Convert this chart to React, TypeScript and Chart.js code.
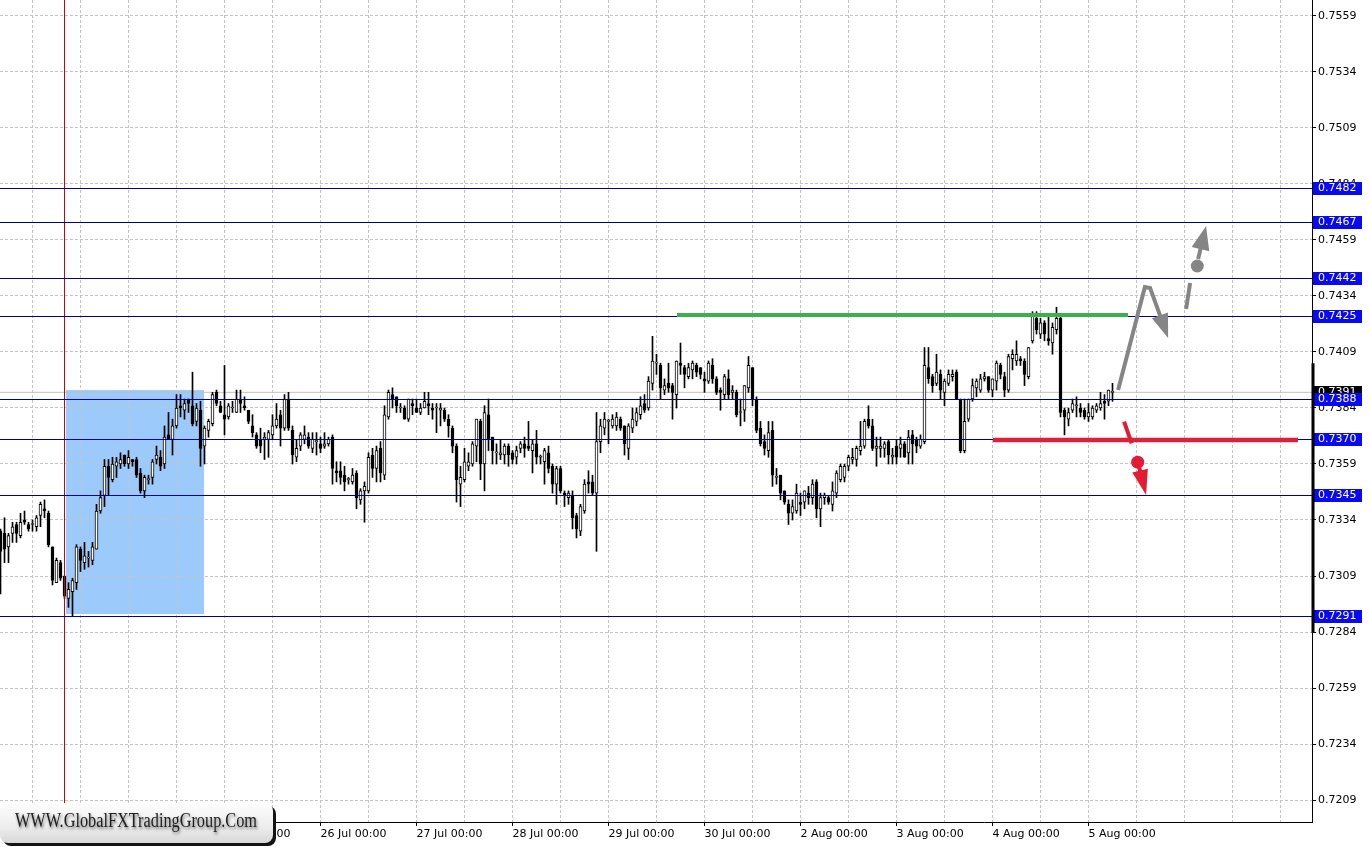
import React, { useEffect, useRef } from 'react';
import { Chart, registerables } from 'chart.js';

Chart.register(...registerables);

// ---------------- data (H1 candles) ----------------
const opens = [
  0.7329, 0.7328, 0.7322, 0.7328, 0.7332, 0.7327, 0.7334, 0.7332, 0.7332, 0.7331, 0.7336, 0.7339,
  0.7337, 0.7322, 0.7306, 0.7315, 0.7309, 0.7299, 0.7302, 0.7306, 0.7321, 0.7315, 0.7317, 0.7316,
  0.7321, 0.7338, 0.7345, 0.7358, 0.7352, 0.7358, 0.7359, 0.7363, 0.7359, 0.7361, 0.7361, 0.7355,
  0.7347, 0.7352, 0.7353, 0.7361, 0.7362, 0.7359, 0.7372, 0.7370, 0.7376, 0.7385, 0.7383, 0.7388,
  0.7385, 0.7378, 0.7383, 0.7367, 0.7374, 0.7377, 0.7391, 0.7385, 0.7381, 0.7380, 0.7384, 0.7382,
  0.7388, 0.7385, 0.7383, 0.7376, 0.7372, 0.7370, 0.7370, 0.7370, 0.7372, 0.7376, 0.7381, 0.7375,
  0.7388, 0.7374, 0.7362, 0.7367, 0.7370, 0.7371, 0.7366, 0.7369, 0.7368, 0.7367, 0.7368, 0.7371,
  0.7356, 0.7356, 0.7354, 0.7352, 0.7351, 0.7355, 0.7343, 0.7347, 0.7347, 0.7363, 0.7357, 0.7366,
  0.7354, 0.7380, 0.7390, 0.7389, 0.7384, 0.7384, 0.7379, 0.7386, 0.7384, 0.7382, 0.7384, 0.7386,
  0.7384, 0.7384, 0.7383, 0.7383, 0.7379, 0.7375, 0.7367, 0.7350, 0.7352, 0.7358, 0.7359, 0.7367,
  0.7378, 0.7359, 0.7381, 0.7371, 0.7364, 0.7363, 0.7363, 0.7367, 0.7364, 0.7362, 0.7366, 0.7368,
  0.7367, 0.7365, 0.7368, 0.7362, 0.7360, 0.7364, 0.7358, 0.7350, 0.7357, 0.7346, 0.7344, 0.7345,
  0.7336, 0.7329, 0.7338, 0.7351, 0.7351, 0.7346, 0.7369, 0.7375, 0.7378, 0.7376, 0.7376, 0.7379,
  0.7376, 0.7366, 0.7375, 0.7378, 0.7381, 0.7386, 0.7384, 0.7395, 0.7404, 0.7403, 0.7392, 0.7395,
  0.7394, 0.7390, 0.7404, 0.7402, 0.7398, 0.7401, 0.7403, 0.7402, 0.7397, 0.7396, 0.7403, 0.7397,
  0.7392, 0.7390, 0.7397, 0.7391, 0.7391, 0.7382, 0.7383, 0.7393, 0.7402, 0.7388, 0.7375, 0.7369,
  0.7365, 0.7374, 0.7353, 0.7354, 0.7347, 0.7341, 0.7337, 0.7338, 0.7342, 0.7342, 0.7346, 0.7344,
  0.7351, 0.7339, 0.7344, 0.7344, 0.7341, 0.7346, 0.7352, 0.7353, 0.7358, 0.7361, 0.7361, 0.7365,
  0.7367, 0.7379, 0.7376, 0.7366, 0.7366, 0.7366, 0.7369, 0.7362, 0.7367, 0.7366, 0.7368, 0.7364,
  0.7372, 0.7370, 0.7367, 0.7369, 0.7402, 0.7398, 0.7395, 0.7399, 0.7391, 0.7395, 0.7398, 0.7400,
  0.7388, 0.7365, 0.7379, 0.7388, 0.7393, 0.7392, 0.7397, 0.7398, 0.7392, 0.7396, 0.7403, 0.7398,
  0.7392, 0.7406, 0.7405, 0.7406, 0.7405, 0.7398, 0.7414, 0.7424, 0.7417, 0.7422, 0.7415, 0.7413,
  0.7419, 0.7424, 0.7383, 0.7379, 0.7383, 0.7385, 0.7384, 0.7383, 0.7380, 0.7380, 0.7383, 0.7384,
  0.7387, 0.7387, 0.7391,
];
const highs = [
  0.7330, 0.7335, 0.7328, 0.7333, 0.7333, 0.7337, 0.7338, 0.7333, 0.7334, 0.7336, 0.7342, 0.7343,
  0.7338, 0.7322, 0.7317, 0.7316, 0.7309, 0.7306, 0.7308, 0.7323, 0.7322, 0.7324, 0.7320, 0.7324,
  0.7341, 0.7347, 0.7361, 0.7361, 0.7362, 0.7362, 0.7364, 0.7363, 0.7365, 0.7361, 0.7362, 0.7357,
  0.7354, 0.7354, 0.7361, 0.7367, 0.7365, 0.7376, 0.7382, 0.7379, 0.7390, 0.7390, 0.7388, 0.7388,
  0.7400, 0.7386, 0.7387, 0.7376, 0.7379, 0.7391, 0.7392, 0.7387, 0.7403, 0.7386, 0.7387, 0.7392,
  0.7392, 0.7389, 0.7383, 0.7381, 0.7373, 0.7375, 0.7373, 0.7374, 0.7381, 0.7386, 0.7383, 0.7390,
  0.7391, 0.7376, 0.7370, 0.7373, 0.7376, 0.7373, 0.7373, 0.7373, 0.7371, 0.7373, 0.7371, 0.7372,
  0.7360, 0.7360, 0.7358, 0.7353, 0.7357, 0.7356, 0.7348, 0.7351, 0.7364, 0.7366, 0.7367, 0.7369,
  0.7385, 0.7392, 0.7393, 0.7389, 0.7386, 0.7385, 0.7388, 0.7388, 0.7388, 0.7386, 0.7391, 0.7391,
  0.7386, 0.7386, 0.7386, 0.7384, 0.7381, 0.7376, 0.7368, 0.7358, 0.7366, 0.7364, 0.7369, 0.7379,
  0.7379, 0.7385, 0.7388, 0.7371, 0.7368, 0.7370, 0.7368, 0.7368, 0.7365, 0.7367, 0.7369, 0.7371,
  0.7378, 0.7370, 0.7374, 0.7363, 0.7366, 0.7367, 0.7359, 0.7358, 0.7358, 0.7347, 0.7347, 0.7347,
  0.7337, 0.7341, 0.7352, 0.7356, 0.7354, 0.7382, 0.7379, 0.7382, 0.7379, 0.7381, 0.7382, 0.7380,
  0.7376, 0.7377, 0.7384, 0.7384, 0.7389, 0.7390, 0.7398, 0.7416, 0.7408, 0.7404, 0.7397, 0.7404,
  0.7395, 0.7405, 0.7413, 0.7403, 0.7404, 0.7405, 0.7404, 0.7402, 0.7400, 0.7405, 0.7406, 0.7398,
  0.7393, 0.7399, 0.7401, 0.7394, 0.7392, 0.7388, 0.7394, 0.7407, 0.7402, 0.7389, 0.7378, 0.7372,
  0.7378, 0.7378, 0.7357, 0.7354, 0.7347, 0.7343, 0.7343, 0.7350, 0.7346, 0.7347, 0.7349, 0.7352,
  0.7352, 0.7346, 0.7346, 0.7345, 0.7351, 0.7356, 0.7359, 0.7359, 0.7363, 0.7366, 0.7367, 0.7378,
  0.7379, 0.7385, 0.7379, 0.7371, 0.7371, 0.7369, 0.7370, 0.7366, 0.7370, 0.7371, 0.7369, 0.7374,
  0.7374, 0.7371, 0.7372, 0.7411, 0.7411, 0.7399, 0.7408, 0.7401, 0.7397, 0.7401, 0.7401, 0.7401,
  0.7388, 0.7388, 0.7388, 0.7397, 0.7397, 0.7399, 0.7400, 0.7398, 0.7397, 0.7405, 0.7404, 0.7400,
  0.7408, 0.7410, 0.7414, 0.7407, 0.7406, 0.7411, 0.7427, 0.7427, 0.7424, 0.7423, 0.7425, 0.7422,
  0.7429, 0.7425, 0.7384, 0.7384, 0.7388, 0.7389, 0.7386, 0.7384, 0.7386, 0.7385, 0.7386, 0.7391,
  0.7390, 0.7392, 0.7395,
];
const lows = [
  0.7301, 0.7315, 0.7315, 0.7324, 0.7324, 0.7326, 0.7332, 0.7329, 0.7329, 0.7329, 0.7331, 0.7335,
  0.7322, 0.7305, 0.7306, 0.7307, 0.7299, 0.7295, 0.7291, 0.7303, 0.7311, 0.7312, 0.7313, 0.7314,
  0.7321, 0.7337, 0.7340, 0.7345, 0.7351, 0.7353, 0.7357, 0.7358, 0.7357, 0.7358, 0.7353, 0.7346,
  0.7344, 0.7350, 0.7350, 0.7359, 0.7356, 0.7357, 0.7370, 0.7363, 0.7375, 0.7380, 0.7379, 0.7382,
  0.7376, 0.7376, 0.7358, 0.7359, 0.7371, 0.7376, 0.7385, 0.7382, 0.7372, 0.7379, 0.7382, 0.7382,
  0.7382, 0.7383, 0.7377, 0.7371, 0.7366, 0.7364, 0.7361, 0.7362, 0.7370, 0.7375, 0.7367, 0.7374,
  0.7374, 0.7359, 0.7360, 0.7365, 0.7368, 0.7366, 0.7364, 0.7363, 0.7364, 0.7366, 0.7367, 0.7350,
  0.7351, 0.7350, 0.7347, 0.7350, 0.7350, 0.7339, 0.7341, 0.7333, 0.7346, 0.7353, 0.7351, 0.7351,
  0.7352, 0.7379, 0.7384, 0.7382, 0.7382, 0.7379, 0.7378, 0.7381, 0.7382, 0.7381, 0.7384, 0.7381,
  0.7379, 0.7373, 0.7376, 0.7378, 0.7371, 0.7364, 0.7342, 0.7340, 0.7351, 0.7356, 0.7358, 0.7360,
  0.7352, 0.7347, 0.7365, 0.7359, 0.7359, 0.7361, 0.7359, 0.7358, 0.7359, 0.7359, 0.7364, 0.7362,
  0.7365, 0.7355, 0.7359, 0.7359, 0.7350, 0.7355, 0.7346, 0.7341, 0.7346, 0.7340, 0.7341, 0.7330,
  0.7326, 0.7327, 0.7337, 0.7346, 0.7345, 0.7320, 0.7364, 0.7372, 0.7368, 0.7375, 0.7374, 0.7374,
  0.7363, 0.7361, 0.7373, 0.7376, 0.7379, 0.7382, 0.7383, 0.7392, 0.7399, 0.7388, 0.7390, 0.7391,
  0.7379, 0.7384, 0.7399, 0.7393, 0.7397, 0.7397, 0.7398, 0.7397, 0.7391, 0.7395, 0.7395, 0.7390,
  0.7383, 0.7388, 0.7388, 0.7388, 0.7380, 0.7376, 0.7378, 0.7391, 0.7385, 0.7373, 0.7367, 0.7363,
  0.7362, 0.7349, 0.7350, 0.7343, 0.7341, 0.7332, 0.7334, 0.7337, 0.7336, 0.7339, 0.7341, 0.7341,
  0.7335, 0.7331, 0.7341, 0.7341, 0.7338, 0.7344, 0.7351, 0.7351, 0.7356, 0.7359, 0.7358, 0.7363,
  0.7366, 0.7375, 0.7365, 0.7358, 0.7362, 0.7362, 0.7359, 0.7359, 0.7359, 0.7362, 0.7362, 0.7359,
  0.7359, 0.7364, 0.7366, 0.7368, 0.7395, 0.7391, 0.7394, 0.7388, 0.7385, 0.7394, 0.7396, 0.7388,
  0.7364, 0.7364, 0.7378, 0.7387, 0.7389, 0.7391, 0.7396, 0.7391, 0.7389, 0.7392, 0.7397, 0.7389,
  0.7391, 0.7401, 0.7403, 0.7403, 0.7394, 0.7397, 0.7413, 0.7417, 0.7415, 0.7414, 0.7412, 0.7408,
  0.7417, 0.7380, 0.7372, 0.7376, 0.7382, 0.7380, 0.7380, 0.7379, 0.7378, 0.7379, 0.7382, 0.7383,
  0.7379, 0.7385, 0.7387,
];
const closes = [
  0.7320, 0.7321, 0.7327, 0.7331, 0.7328, 0.7333, 0.7333, 0.7330, 0.7332, 0.7335, 0.7341, 0.7338,
  0.7323, 0.7307, 0.7316, 0.7308, 0.7300, 0.7303, 0.7307, 0.7322, 0.7316, 0.7318, 0.7317, 0.7322,
  0.7338, 0.7344, 0.7358, 0.7353, 0.7359, 0.7360, 0.7361, 0.7359, 0.7362, 0.7360, 0.7354, 0.7347,
  0.7353, 0.7352, 0.7360, 0.7363, 0.7358, 0.7371, 0.7370, 0.7376, 0.7384, 0.7384, 0.7386, 0.7386,
  0.7377, 0.7384, 0.7366, 0.7375, 0.7378, 0.7390, 0.7386, 0.7382, 0.7379, 0.7385, 0.7384, 0.7388,
  0.7386, 0.7384, 0.7378, 0.7373, 0.7367, 0.7367, 0.7371, 0.7373, 0.7376, 0.7379, 0.7375, 0.7388,
  0.7375, 0.7363, 0.7366, 0.7372, 0.7372, 0.7367, 0.7370, 0.7369, 0.7366, 0.7368, 0.7370, 0.7357,
  0.7355, 0.7353, 0.7351, 0.7352, 0.7354, 0.7344, 0.7347, 0.7349, 0.7362, 0.7357, 0.7365, 0.7355,
  0.7381, 0.7391, 0.7388, 0.7385, 0.7384, 0.7379, 0.7388, 0.7385, 0.7382, 0.7384, 0.7387, 0.7385,
  0.7383, 0.7384, 0.7384, 0.7379, 0.7376, 0.7367, 0.7352, 0.7353, 0.7360, 0.7360, 0.7368, 0.7379,
  0.7359, 0.7382, 0.7370, 0.7365, 0.7364, 0.7364, 0.7367, 0.7363, 0.7361, 0.7365, 0.7368, 0.7366,
  0.7366, 0.7368, 0.7362, 0.7362, 0.7365, 0.7357, 0.7350, 0.7357, 0.7347, 0.7345, 0.7346, 0.7335,
  0.7330, 0.7340, 0.7350, 0.7350, 0.7346, 0.7369, 0.7376, 0.7379, 0.7378, 0.7379, 0.7380, 0.7375,
  0.7368, 0.7376, 0.7379, 0.7382, 0.7385, 0.7383, 0.7396, 0.7405, 0.7404, 0.7393, 0.7394, 0.7393,
  0.7391, 0.7405, 0.7403, 0.7399, 0.7402, 0.7404, 0.7400, 0.7399, 0.7396, 0.7404, 0.7397, 0.7391,
  0.7391, 0.7398, 0.7390, 0.7392, 0.7381, 0.7382, 0.7394, 0.7403, 0.7388, 0.7374, 0.7368, 0.7366,
  0.7373, 0.7354, 0.7353, 0.7346, 0.7342, 0.7337, 0.7340, 0.7346, 0.7341, 0.7347, 0.7344, 0.7350,
  0.7339, 0.7344, 0.7345, 0.7342, 0.7347, 0.7355, 0.7358, 0.7358, 0.7362, 0.7362, 0.7366, 0.7367,
  0.7378, 0.7376, 0.7366, 0.7367, 0.7367, 0.7368, 0.7363, 0.7363, 0.7362, 0.7368, 0.7362, 0.7371,
  0.7368, 0.7367, 0.7370, 0.7403, 0.7397, 0.7394, 0.7400, 0.7392, 0.7396, 0.7399, 0.7399, 0.7388,
  0.7365, 0.7378, 0.7388, 0.7394, 0.7396, 0.7397, 0.7398, 0.7392, 0.7397, 0.7404, 0.7399, 0.7392,
  0.7407, 0.7408, 0.7408, 0.7405, 0.7399, 0.7411, 0.7425, 0.7419, 0.7422, 0.7417, 0.7414, 0.7420,
  0.7424, 0.7382, 0.7380, 0.7382, 0.7386, 0.7385, 0.7382, 0.7380, 0.7382, 0.7384, 0.7385, 0.7386,
  0.7386, 0.7392, 0.7391,
];

// price axis labels
const priceTicks = [0.7209, 0.7234, 0.7259, 0.7284, 0.7309, 0.7334, 0.7359, 0.7384, 0.7409, 0.7434, 0.7459, 0.7484, 0.7509, 0.7534, 0.7559];
// vertical grid (bar indexes) and date labels
const gridBars = [8, 20, 32, 44, 56, 68, 80, 92, 104, 116, 128, 140, 152, 164, 176, 188, 200, 212, 224, 236, 248, 260, 272, 284, 296, 308, 320];
const dayBars = [8, 32, 56, 80, 104, 128, 152, 176, 200, 224, 248, 272];
const dayLabels = ['21 Jul 00:00', '22 Jul 00:00', '23 Jul 00:00', '26 Jul 00:00', '27 Jul 00:00', '28 Jul 00:00', '29 Jul 00:00', '30 Jul 00:00', '2 Aug 00:00', '3 Aug 00:00', '4 Aug 00:00', '5 Aug 00:00'];

// horizontal levels and drawn objects (bar index / price)
const levels = [0.7482, 0.7467, 0.7442, 0.7425, 0.7388, 0.7370, 0.7345, 0.7291];
const bidPrice = 0.7391;
const signalBar = 16;
const zoneBars = [16.375, 50.875];
const zonePrices = [0.7392, 0.7292];
const resistanceBars = [169.125, 281.875];
const resistancePrice = 0.74255;
const supportBars = [248.125, 324.375];
const supportPrice = 0.73697;
const bullPath = [[279.4, 0.7392], [286.1, 0.7438], [287.4, 0.74376], [291.9, 0.74153]];
const bullDash = [[296.4, 0.74282], [297.4, 0.74398]];
const bullDot = [299.2, 0.74474];
const bullArrow = [[299.4, 0.74505], [301.4, 0.74653]];
const bearDash = [[280.9, 0.73779], [282.8, 0.73682]];
const bearDot = [284.3, 0.73598];
const bearArrow = [[284.6, 0.73581], [286.4, 0.73452]];
const rangeBar = [0.7404, 0.72835];
const logoText = 'WWW.GlobalFXTradingGroup.Com';

const X_MIN = -0.125;
const X_MAX = 327.875;
const Y_MIN = 0.719918;
const Y_MAX = 0.756614;

function drawArrow(ctx: CanvasRenderingContext2D, pts: number[][], color: string, lw: number, headLen: number, headHalf: number) {
  const n = pts.length;
  const tip = pts[n - 1];
  const prev = pts[n - 2];
  const dx = tip[0] - prev[0];
  const dy = tip[1] - prev[1];
  const L = Math.hypot(dx, dy) || 1;
  const ux = dx / L, uy = dy / L;
  const bx = tip[0] - ux * headLen, by = tip[1] - uy * headLen;
  ctx.strokeStyle = color;
  ctx.lineWidth = lw;
  ctx.lineJoin = 'miter';
  ctx.lineCap = 'butt';
  ctx.beginPath();
  ctx.moveTo(pts[0][0], pts[0][1]);
  for (let i = 1; i < n - 1; i++) ctx.lineTo(pts[i][0], pts[i][1]);
  ctx.lineTo(bx + ux * 2, by + uy * 2);
  ctx.stroke();
  ctx.fillStyle = color;
  ctx.beginPath();
  ctx.moveTo(tip[0], tip[1]);
  ctx.lineTo(bx - uy * headHalf, by + ux * headHalf);
  ctx.lineTo(bx + uy * headHalf, by - ux * headHalf);
  ctx.closePath();
  ctx.fill();
}

const overlayPlugin = {
  id: 'fxOverlay',
  beforeDraw(chart: any) {
    const { ctx, scales } = chart;
    const x = scales.x, y = scales.y;
    const l = x.getPixelForValue(zoneBars[0]);
    const r = x.getPixelForValue(zoneBars[1]);
    const t = y.getPixelForValue(zonePrices[0]);
    const b = y.getPixelForValue(zonePrices[1]);
    ctx.save();
    ctx.fillStyle = '#9ccafa';
    ctx.fillRect(l, t, r - l, b - t);
    ctx.restore();
  },
  afterDatasetsDraw(chart: any) {
    const { ctx, scales, chartArea } = chart;
    const x = scales.x, y = scales.y;
    const P = (p: number[]) => [x.getPixelForValue(p[0]), y.getPixelForValue(p[1])];
    ctx.save();
    ctx.beginPath();
    ctx.rect(chartArea.left, chartArea.top, chartArea.right - chartArea.left, chartArea.bottom - chartArea.top);
    ctx.clip();

    // signal vertical line
    const vx = x.getPixelForValue(signalBar);
    ctx.strokeStyle = '#d40000';
    ctx.lineWidth = 1;
    ctx.beginPath();
    ctx.moveTo(vx, chartArea.top);
    ctx.lineTo(vx, chartArea.bottom);
    ctx.stroke();

    // horizontal levels (crisp 1px)
    ctx.strokeStyle = '#000094';
    ctx.lineWidth = 1;
    levels.forEach((lv) => {
      const py = Math.round(y.getPixelForValue(lv)) + 0.5;
      ctx.beginPath();
      ctx.moveTo(chartArea.left, py);
      ctx.lineTo(chartArea.right, py);
      ctx.stroke();
    });

    // resistance / support segments
    ctx.lineCap = 'butt';
    ctx.strokeStyle = '#3caf4e';
    ctx.lineWidth = 4;
    const gy = y.getPixelForValue(resistancePrice);
    ctx.beginPath();
    ctx.moveTo(x.getPixelForValue(resistanceBars[0]), gy);
    ctx.lineTo(x.getPixelForValue(resistanceBars[1]), gy);
    ctx.stroke();
    ctx.strokeStyle = '#e01f3d';
    ctx.lineWidth = 4.5;
    const sy = y.getPixelForValue(supportPrice);
    ctx.beginPath();
    ctx.moveTo(x.getPixelForValue(supportBars[0]), sy);
    ctx.lineTo(x.getPixelForValue(supportBars[1]), sy);
    ctx.stroke();

    const gray = '#858585';
    const red = '#e31b35';
    drawArrow(ctx, bullPath.map(P), gray, 4, 24, 8.5);
    const bd = bullDash.map(P);
    ctx.strokeStyle = gray; ctx.lineWidth = 4; ctx.lineCap = 'butt';
    ctx.beginPath(); ctx.moveTo(bd[0][0], bd[0][1]); ctx.lineTo(bd[1][0], bd[1][1]); ctx.stroke();
    const bdot = P(bullDot);
    ctx.fillStyle = gray;
    ctx.beginPath(); ctx.arc(bdot[0], bdot[1], 6.5, 0, Math.PI * 2); ctx.fill();
    drawArrow(ctx, bullArrow.map(P), gray, 4, 24, 9);

    const rd = bearDash.map(P);
    ctx.strokeStyle = red; ctx.lineWidth = 4; ctx.lineCap = 'butt';
    ctx.beginPath(); ctx.moveTo(rd[0][0], rd[0][1]); ctx.lineTo(rd[1][0], rd[1][1]); ctx.stroke();
    const rdot = P(bearDot);
    ctx.fillStyle = red;
    ctx.beginPath(); ctx.arc(rdot[0], rdot[1], 6.5, 0, Math.PI * 2); ctx.fill();
    drawArrow(ctx, bearArrow.map(P), red, 4, 25, 8);
    ctx.restore();
  },
  afterDraw(chart: any) {
    const { ctx, scales, chartArea } = chart;
    const y = scales.y;
    const bx = chartArea.right + 1;
    ctx.save();
    ctx.font = '11px "DejaVu Sans"';
    ctx.textBaseline = 'middle';
    ctx.textAlign = 'left';
    const by = Math.round(y.getPixelForValue(bidPrice));
    ctx.fillStyle = '#000';
    ctx.fillRect(bx, by - 6, 49, 13);
    ctx.fillStyle = '#fff';
    ctx.fillText(bidPrice.toFixed(4), bx + 5, by + 0.5);
    levels.forEach((lv) => {
      const py = Math.round(y.getPixelForValue(lv));
      ctx.fillStyle = '#0a0af0';
      ctx.fillRect(bx, py - 6, 49, 13);
      ctx.fillStyle = '#fff';
      ctx.fillText(lv.toFixed(4), bx + 5, py + 0.5);
    });
    ctx.strokeStyle = '#000';
    ctx.lineWidth = 3;
    ctx.beginPath();
    ctx.moveTo(chartArea.right + 1, y.getPixelForValue(rangeBar[0]));
    ctx.lineTo(chartArea.right + 1, y.getPixelForValue(rangeBar[1]));
    ctx.stroke();

    // watermark logo
    const lx = 0, ly = 803, lw = 273, lh = 40;
    ctx.fillStyle = '#141414';
    ctx.beginPath();
    (ctx as any).roundRect(lx + 3, ly + 3, lw, lh, 8);
    ctx.fill();
    const g = ctx.createLinearGradient(0, ly, 0, ly + lh);
    g.addColorStop(0, '#fdfdfd');
    g.addColorStop(0.6, '#ededed');
    g.addColorStop(1, '#d8d8d8');
    ctx.fillStyle = g;
    ctx.beginPath();
    (ctx as any).roundRect(lx, ly, lw, lh, 8);
    ctx.fill();
    ctx.font = '20px "Liberation Serif"';
    ctx.textBaseline = 'alphabetic';
    const tw = ctx.measureText(logoText).width;
    ctx.translate(15, 827);
    ctx.scale(242 / tw, 1);
    ctx.shadowColor = 'rgba(0,0,0,0.55)';
    ctx.shadowBlur = 3;
    ctx.shadowOffsetX = 1;
    ctx.shadowOffsetY = 2;
    ctx.fillStyle = '#1e1e1e';
    ctx.fillText(logoText, 0, 0);
    ctx.restore();
  },
};

export default function App() {
  const canvasRef = useRef<HTMLCanvasElement | null>(null);

  useEffect(() => {
    document.body.style.margin = '0';
    const canvas = canvasRef.current;
    if (!canvas) return;

    const bodyColors = opens.map((o, i) => (closes[i] >= o ? '#ffffff' : '#000000'));

    const datasets: any[] = [
      {
        type: 'bar',
        data: opens.map((o, i) => ({ x: i, y: [o, closes[i]] })),
        backgroundColor: bodyColors,
        borderColor: '#000000',
        borderWidth: 1,
        borderSkipped: false,
        barThickness: 3,
        minBarLength: 1,
        grouped: false,
        order: 1,
      },
      {
        type: 'bar',
        data: lows.map((l, i) => ({ x: i, y: [l, highs[i]] })),
        backgroundColor: '#000000',
        borderWidth: 0,
        barThickness: 1,
        grouped: false,
        order: 2,
      },
      {
        type: 'line',
        data: [{ x: X_MIN, y: bidPrice }, { x: X_MAX, y: bidPrice }],
        borderColor: '#c0c0c0', borderWidth: 1, pointRadius: 0, order: 3,
      },
    ];

    const chart = new Chart(canvas, {
      type: 'bar',
      data: { datasets },
      plugins: [overlayPlugin],
      options: {
        responsive: false,
        devicePixelRatio: 1,
        animation: false,
        events: [],
        layout: { padding: 0 },
        plugins: { legend: { display: false }, tooltip: { enabled: false } },
        font: { family: 'DejaVu Sans', size: 11 },
        scales: {
          x: {
            type: 'linear',
            min: X_MIN,
            max: X_MAX,
            offset: false,
            afterBuildTicks: (s: any) => { s.ticks = gridBars.map((v) => ({ value: v })); },
            afterFit: (s: any) => { s.height = 25; s.paddingLeft = 0; s.paddingRight = 0; s.paddingTop = 0; s.paddingBottom = 0; },
            grid: {
              offset: false,
              color: '#c4c4c4',
              lineWidth: 1,
              drawTicks: true,
              tickLength: 4,
              tickWidth: 1,
              tickBorderDash: [],
              tickColor: (c: any) => (c.tick && dayBars.includes(c.tick.value) ? '#000000' : 'rgba(0,0,0,0)'),
            },
            border: { display: true, color: '#000000', width: 1, dash: [3, 2] },
            ticks: {
              autoSkip: false,
              maxRotation: 0,
              minRotation: 0,
              align: 'start',
              padding: 2,
              color: '#000000',
              font: { family: 'DejaVu Sans', size: 11 },
              callback: (v: any) => {
                const k = dayBars.indexOf(Number(v));
                return k >= 0 ? dayLabels[k] : '';
              },
            },
          },
          y: {
            type: 'linear',
            position: 'right',
            min: Y_MIN,
            max: Y_MAX,
            beginAtZero: false,
            afterBuildTicks: (s: any) => { s.ticks = priceTicks.map((v) => ({ value: v })); },
            afterFit: (s: any) => { s.width = 57; s.paddingTop = 0; s.paddingBottom = 0; s.paddingLeft = 0; s.paddingRight = 0; },
            grid: {
              color: '#c4c4c4',
              lineWidth: 1,
              drawTicks: true,
              tickLength: 4,
              tickWidth: 1,
              tickBorderDash: [],
              tickColor: '#000000',
            },
            border: { display: true, color: '#000000', width: 1, dash: [3, 2] },
            ticks: {
              autoSkip: false,
              padding: 2,
              color: '#000000',
              font: { family: 'DejaVu Sans', size: 11 },
              callback: (v: any) => Number(v).toFixed(4),
            },
          },
        },
      } as any,
    });

    return () => chart.destroy();
  }, []);

  return (
    <div style={{ position: 'fixed', left: 0, top: 0, width: 1369, height: 847, background: '#ffffff' }}>
      <canvas ref={canvasRef} width={1369} height={847} style={{ display: 'block', width: 1369, height: 847 }} />
    </div>
  );
}
